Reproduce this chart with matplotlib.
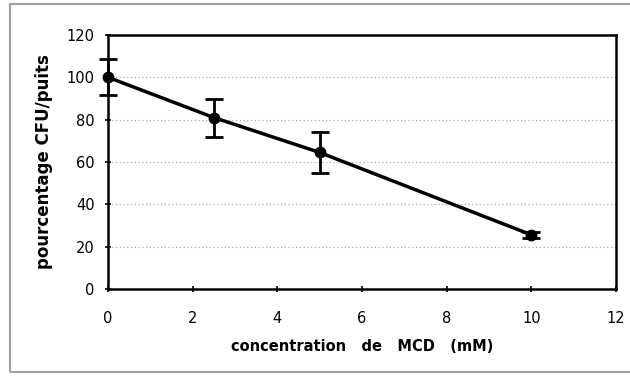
import matplotlib
matplotlib.use("Agg")
import matplotlib.pyplot as plt
from matplotlib.patches import Rectangle

conc = [0, 2.5, 5, 10]
pct = [100, 81, 64.5, 25.6]
err = [8.5, 9, 9.5, 1.5]
xticks = [0, 2, 4, 6, 8, 10, 12]
yticks = [0, 20, 40, 60, 80, 100, 120]

plt.rcParams['font.family'] = ['DejaVu Sans']

fig = plt.figure(figsize=(6.3, 3.76), dpi=100)
fig.patches.append(Rectangle((10/630, 4/376), 630/630, 368/376, transform=fig.transFigure,
                             fill=False, edgecolor='#a0a0a0', linewidth=1.5))
ax = fig.add_axes([108/630, 1-289/376, (616-108)/630, (289-35)/376])

cont = ax.errorbar(conc, pct, yerr=err, color='black', linewidth=2.5, marker='o', markersize=7.5,
                   capsize=6.5, capthick=2, elinewidth=2)
for art in [cont.lines[0], *cont.lines[1], *cont.lines[2]]:
    art.set_clip_on(False)
ax.set_xlim(0, 12)
ax.set_ylim(0, 120)
ax.set_xticks(xticks)
ax.set_yticks(yticks)
ax.set_xticklabels([str(t) for t in xticks], fontsize=10.5)
ax.set_yticklabels([str(t) for t in yticks], fontsize=10.5)
for y in yticks[1:-1]:
    ax.axhline(y, color='#aaaaaa', linestyle=(0, (1, 2)), linewidth=0.9, zorder=0)
for s in ax.spines.values():
    s.set_linewidth(1.8)
ax.tick_params(axis='both', direction='inout', length=5, width=1.2, pad=7)
ax.tick_params(axis='x', pad=13)
ax.set_xlabel('concentration   de   MCD   (mM)', fontsize=10.5, fontweight='bold', labelpad=10)
ax.set_ylabel('pourcentage CFU/puits', fontsize=12, fontweight='bold', labelpad=10)

fig.savefig('out.png', dpi=100)
